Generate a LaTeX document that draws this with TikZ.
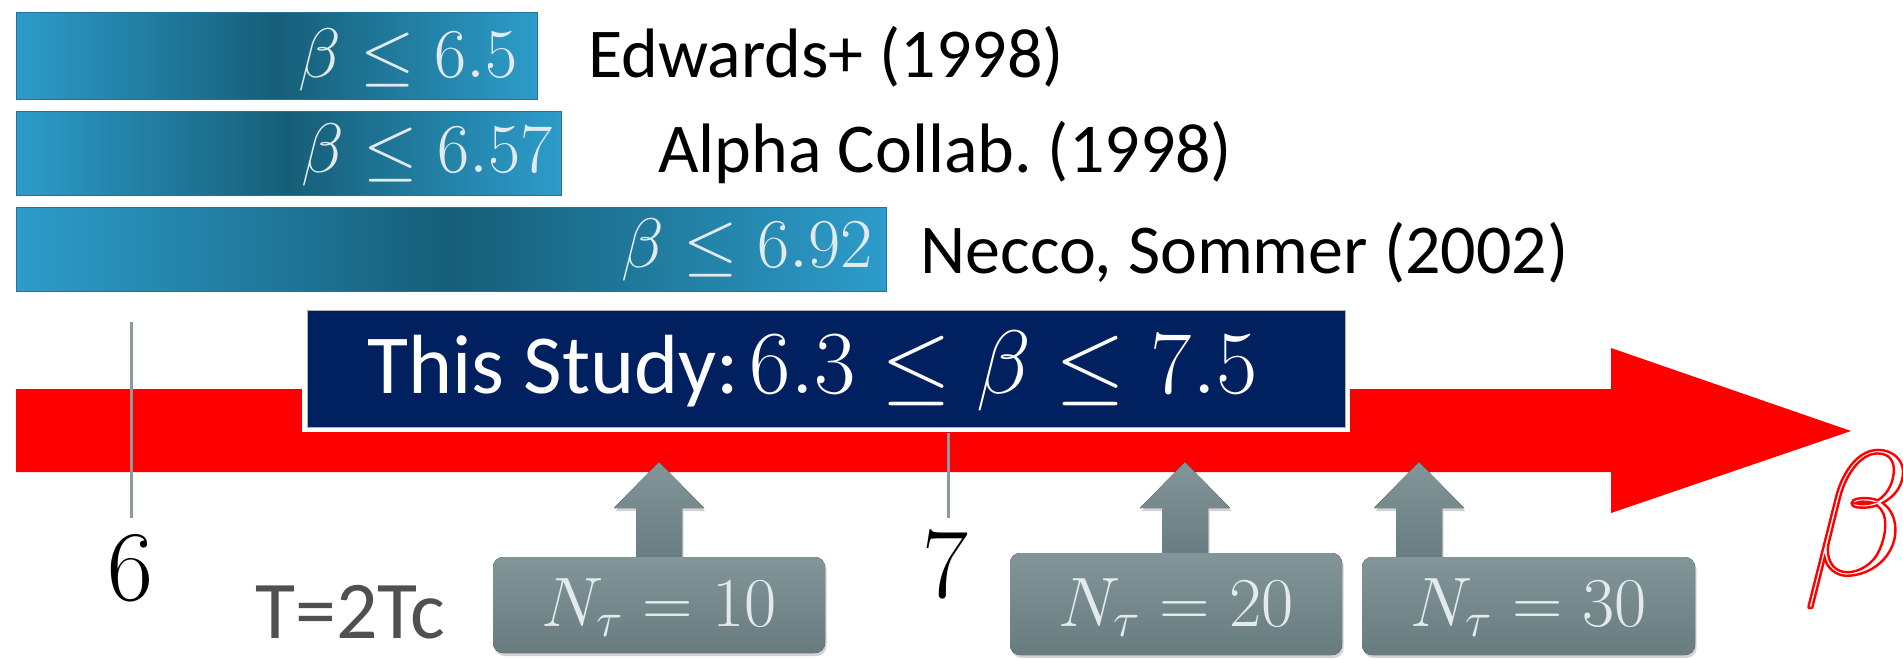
\RequirePackage{fix-cm}
\documentclass[tikz,border=0pt]{standalone}
\usepackage{fontspec}
\setmainfont{Carlito}
\usetikzlibrary{shadows}
\definecolor{barL}{RGB}{45,156,202}
\definecolor{barD}{RGB}{22,94,120}
\definecolor{navy}{RGB}{0,32,96}
\definecolor{boxT}{RGB}{130,149,152}
\definecolor{boxB}{RGB}{104,123,126}
\definecolor{tickc}{RGB}{140,154,156}
\definecolor{pale}{RGB}{226,234,238}
\definecolor{tgray}{RGB}{80,80,80}
\frenchspacing
\begin{document}
\begin{tikzpicture}[x=0.5pt,y=-0.5pt,
  barshape/.style={left color=barL, right color=barL, middle color=barD},
  baredge/.style={draw=barL!75!black, line width=0.4pt},
  bartext/.style={text=pale, font=\fontsize{35}{42}\selectfont, inner sep=0pt, anchor=base east},
  lbl/.style={text=black, font=\fontsize{35}{42}\selectfont, inner sep=0pt, anchor=base west},
  tickline/.style={draw=tickc, line width=1.5pt},
  num/.style={text=black, font=\fontsize{50}{60}\selectfont, inner sep=0pt, anchor=base},
  grayfill/.style={top color=boxT, bottom color=boxB},
  gshadow/.style={drop shadow={opacity=0.35, shadow xshift=0.8pt, shadow yshift=-1.5pt}},
  boxtext/.style={text=pale, font=\fontsize{35}{42}\selectfont, inner sep=0pt, anchor=base}]
\useasboundingbox (0,0) rectangle (1903,659);

% blue bars
\path[barshape] (16,12) rectangle (537,99);
\draw[baredge] (16,12) rectangle (537,99);
\path[barshape] (16,111) rectangle (561,195);
\draw[baredge] (16,111) rectangle (561,195);
\path[barshape] (16,207) rectangle (886,291);
\draw[baredge] (16,207) rectangle (886,291);
\node[bartext] (b1) at (518,77) {$\beta\le6.5$};
\node[bartext] (b2) at (553,172) {$\beta\le6.57$};
\node[bartext] (b3) at (873,267) {$\beta\le6.92$};
\node[lbl] (l1) at (588,77) {Edwards+ (1998)};
\node[lbl] (l2) at (658,172) {Alpha Collab. (1998)};
\node[lbl] (l3) at (920,273) {Necco, Sommer (2002)};

% red axis arrow
\fill[red] (16,389) -- (1611,389) -- (1611,348) -- (1851,431) -- (1611,513) -- (1611,472) -- (16,472) -- cycle;

% tick 6
\coordinate (t6a) at (131,322);
\coordinate (t6b) at (131,518);
\draw[tickline] (t6a) -- (t6b);
\node[num] (n6) at (130,600) {$6$};

% this study box
\fill[white] (302,305) rectangle (1350,432);
\fill[navy] (307,310) rectangle (1345,427);
\draw[gray!60, line width=0.5pt] (307,310) rectangle (1345,427);
\node[anchor=base west, text=white, inner sep=0pt] (study) at (367,393)
  {\fontsize{42}{50}\selectfont This Study:\hspace{5pt}\fontsize{45}{54}\selectfont$6.3\le\beta\le7.5$};

% tick 7
\coordinate (t7a) at (948,433);
\coordinate (t7b) at (948,518);
\draw[tickline] (t7a) -- (t7b);
\node[num] (n7) at (945,597) {$7$};

% T=2Tc
\node[anchor=base west, text=tgray, font=\fontsize{41}{49}\selectfont, inner sep=0pt] (temp) at (255,638) {T=2Tc};

% gray up arrows and boxes
\foreach \cx/\bt/\xa/\xb/\bb/\nm/\val in {659/557/493/825/653/nt10/10, 1185/553/1010/1342/655/nt20/20, 1419/557/1362/1695/655/nt30/30}{
  \fill[grayfill, gshadow] (\cx-23,\bt+6) -- (\cx-23,508) -- (\cx-45,508) -- (\cx,462) -- (\cx+45,508) -- (\cx+23,508) -- (\cx+23,\bt+6) -- cycle;
  \fill[grayfill, gshadow, rounded corners=5pt] (\xa,\bt) rectangle (\xb,\bb);
  \node[boxtext] (\nm) at ({(\xa+\xb)/2},626) {$N_\tau=\val$};
}

% red beta
\node[anchor=base west, text=red, font=\fontsize{88}{100}\selectfont, inner sep=0pt] (beta) at (1803,574)
  {\special{pdf:literal direct q 1 Tr 1.2 w}$\beta$\special{pdf:literal direct 0 Tr Q}};
\end{tikzpicture}
\end{document}
